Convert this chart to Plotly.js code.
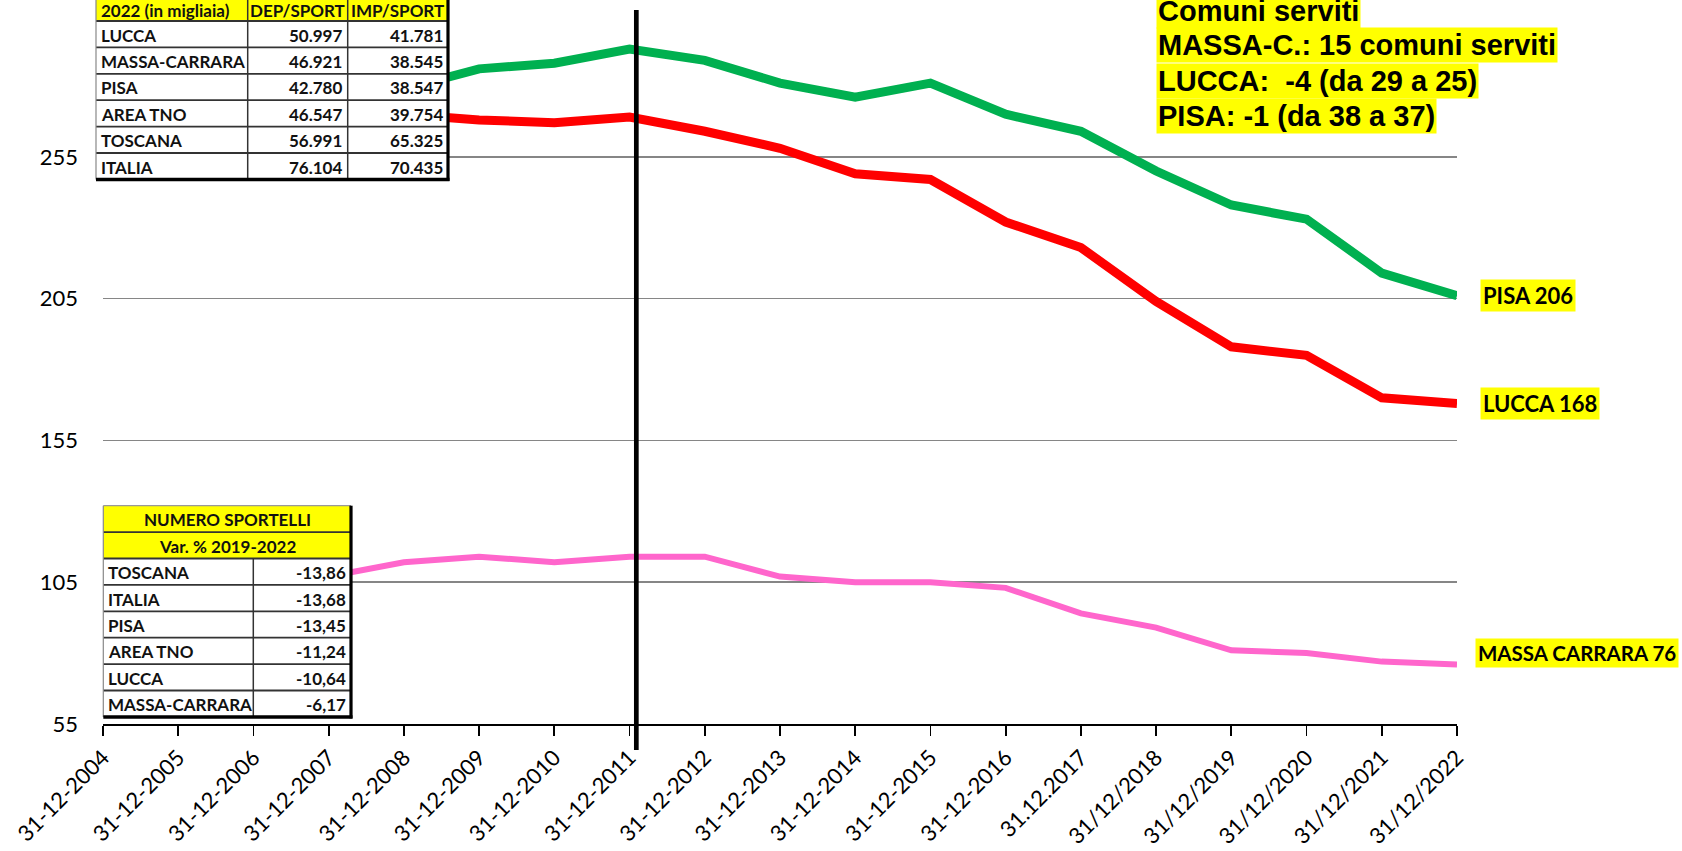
<!DOCTYPE html>
<html><head><meta charset="utf-8">
<script src="https://cdn.plot.ly/plotly-3.0.1.min.js"></script>
<style>html,body{margin:0;padding:0;background:#fff;} #chart{width:1682px;height:851px;}</style>
</head><body><div id="chart"></div>
<script>
// ---------- DATA ----------
const dates = ['31-12-2004','31-12-2005','31-12-2006','31-12-2007','31-12-2008','31-12-2009','31-12-2010','31-12-2011','31-12-2012','31-12-2013','31-12-2014','31-12-2015','31-12-2016','31.12.2017','31/12/2018','31/12/2019','31/12/2020','31/12/2021','31/12/2022'];
const pisa  = [262, 267, 272, 276, 279, 286, 288, 293, 289, 281, 276, 281, 270, 264, 250, 238, 233, 214, 206];
const lucca = [264, 267, 270, 271, 270, 268, 267, 269, 264, 258, 249, 247, 232, 223, 204, 188, 185, 170, 168];
const massa = [101, 103, 105, 107, 112, 114, 112, 114, 114, 107, 105, 105, 103, 94, 89, 81, 80, 77, 76];
const seriesNames = ['PISA', 'LUCCA', 'MASSA CARRARA'];
const yTicks = [55, 105, 155, 205, 255];
const markerDate = '31-12-2011';

const t1Header = ['2022 (in migliaia)', 'DEP/SPORT', 'IMP/SPORT'];
const t1Areas = ['LUCCA', 'MASSA-CARRARA', 'PISA', 'AREA TNO', 'TOSCANA', 'ITALIA'];
const t1Dep = ['50.997', '46.921', '42.780', '46.547', '56.991', '76.104'];
const t1Imp = ['41.781', '38.545', '38.547', '39.754', '65.325', '70.435'];

const t2Title = ['NUMERO SPORTELLI', 'Var. % 2019-2022'];
const t2Areas = ['TOSCANA', 'ITALIA', 'PISA', 'AREA TNO', 'LUCCA', 'MASSA-CARRARA'];
const t2Var = ['-13,86', '-13,68', '-13,45', '-11,24', '-10,64', '-6,17'];

const notes = ['Comuni serviti', 'MASSA-C.: 15 comuni serviti', 'LUCCA: \u00a0-4 (da 29 a 25)', 'PISA: -1 (da 38 a 37)'];

// ---------- GEOMETRY ----------
const W = 1682, H = 851;
const M = {l: 103, r: 225, t: 15, b: 127};
const PW = W - M.l - M.r, PH = H - M.t - M.b;
const px = x => (x - M.l) / PW;
const py = y => (H - M.b - y) / PH;

const shapes = [];
const ann = [];
const TF = {family: 'Lato, sans-serif', size: 17, color: '#111', weight: 'bold'};

function rect(x0, y0, x1, y1, fill) {
  shapes.push({type: 'rect', xref: 'paper', yref: 'paper', x0: px(x0), x1: px(x1), y0: py(y1), y1: py(y0),
    fillcolor: fill, line: {width: 0}, layer: 'above'});
}
function seg(x0, y0, x1, y1, w, c) {
  shapes.push({type: 'line', xref: 'paper', yref: 'paper', x0: px(x0), x1: px(x1), y0: py(y0), y1: py(y1),
    line: {width: w, color: c}, layer: 'above'});
}
function txt(x, y, t, anchor, font) {
  ann.push({xref: 'paper', yref: 'paper', x: px(x), y: py(y), text: t, showarrow: false,
    xanchor: anchor, yanchor: 'middle', font: font || TF});
}

// ---- top table ----
(function () {
  const cx = [96, 247.7, 347.7, 448];
  const rh = 26.4, hb = 21;
  const top = hb - rh;
  const rows = [top];
  for (let k = 0; k <= t1Areas.length; k++) rows.push(hb + rh * k);
  const bottom = rows[rows.length - 1];
  rect(cx[0], top, cx[3], bottom, '#ffffff');
  rect(cx[0], top, cx[3], hb, '#ffff00');
  for (let k = 1; k < rows.length - 1; k++) seg(cx[0], rows[k], cx[3], rows[k], 1.8, '#333');
  seg(cx[1], top, cx[1], bottom, 1.5, '#333');
  seg(cx[2], top, cx[2], bottom, 1.5, '#333');
  seg(cx[0], top, cx[0], bottom, 1.2, '#888');
  seg(cx[3], top, cx[3], bottom + 1.5, 3.2, '#000');
  seg(cx[0], bottom, cx[3] + 1.5, bottom, 3.5, '#000');
  const hc = 10.5;
  txt(cx[0] + 3, hc, t1Header[0], 'left');
  txt((cx[1] + cx[2]) / 2, hc, t1Header[1], 'center');
  txt((cx[2] + cx[3]) / 2, hc, t1Header[2], 'center');
  t1Areas.forEach((a, i) => {
    const yc = hb + rh * (i + 0.5) + 1;
    txt(cx[0] + 3, yc, a, 'left');
    txt(cx[2] - 4, yc, t1Dep[i], 'right');
    txt(cx[3] - 3, yc, t1Imp[i], 'right');
  });
})();

// ---- bottom table ----
(function () {
  const cx = [103.3, 253.3, 351];
  const rh = 26.4, top = 505.7;
  const rows = [];
  for (let k = 0; k <= t2Title.length + t2Areas.length; k++) rows.push(top + rh * k);
  const bottom = rows[rows.length - 1];
  rect(cx[0], top, cx[2], bottom, '#ffffff');
  rect(cx[0], top, cx[2], rows[2], '#ffff00');
  seg(cx[0], top, cx[2], top, 1.2, '#999');
  for (let k = 1; k < rows.length - 1; k++) seg(cx[0], rows[k], cx[2], rows[k], 1.8, '#333');
  seg(cx[1], rows[2], cx[1], bottom, 1.5, '#333');
  seg(cx[0], top, cx[0], bottom, 1.2, '#888');
  seg(cx[2], top, cx[2], bottom + 1.5, 3.2, '#000');
  seg(cx[0], bottom, cx[2] + 1.5, bottom, 3.5, '#000');
  t2Title.forEach((t, i) => txt((cx[0] + cx[2]) / 2, top + rh * (i + 0.5) + 1, t, 'center'));
  t2Areas.forEach((a, i) => {
    const yc = rows[2] + rh * (i + 0.5) + 1;
    txt(cx[0] + 3, yc, a, 'left');
    txt(cx[2] - 3, yc, t2Var[i], 'right');
  });
})();

// ---- vertical marker line ----
const mi = dates.indexOf(markerDate);
shapes.push({type: 'line', xref: 'paper', yref: 'paper',
  x0: (mi + 0.09) / (dates.length - 1), x1: (mi + 0.09) / (dates.length - 1),
  y0: py(750), y1: py(10), line: {width: 4.7, color: '#000'}, layer: 'above'});

// ---- end labels ----
const LF = {family: 'Lato, sans-serif', size: 22, color: '#000', weight: 'bold'};
const last = a => a[a.length - 1];
[[seriesNames[0], pisa, 1480, 0, 22], [seriesNames[1], lucca, 1480, 0, 22], [seriesNames[2], massa, 1475, 11, 20.5]].forEach(([n, arr, x, ys, fs]) => {
  ann.push({xref: 'paper', yref: 'y', x: px(x), y: last(arr), yshift: ys, text: n + ' ' + last(arr),
    showarrow: false, xanchor: 'left', yanchor: 'middle', bgcolor: '#ffff00', borderpad: 2,
    font: Object.assign({}, LF, {size: fs})});
});

// ---- notes top right ----
const NF = {family: 'Liberation Sans, Arial, sans-serif', size: 29, color: '#000', weight: 'bold'};
const noteY = [11.5, 45, 80.8, 116.4];
notes.forEach((t, i) => {
  ann.push({xref: 'paper', yref: 'paper', x: px(1156), y: py(noteY[i]), text: t, showarrow: false,
    xanchor: 'left', yanchor: 'middle', bgcolor: '#ffff00', borderpad: 1, font: NF});
});

// ---------- TRACES ----------
const traces = [
  {x: dates, y: pisa, name: seriesNames[0], type: 'scatter', mode: 'lines', line: {color: '#00B050', width: 9}},
  {x: dates, y: lucca, name: seriesNames[1], type: 'scatter', mode: 'lines', line: {color: '#FF0000', width: 9}},
  {x: dates, y: massa, name: seriesNames[2], type: 'scatter', mode: 'lines', line: {color: '#FF66CC', width: 6}}
];

const layout = {
  width: W, height: H, margin: M,
  paper_bgcolor: '#fff', plot_bgcolor: '#fff',
  showlegend: false,
  font: {family: 'Lato, sans-serif', color: '#000'},
  xaxis: {type: 'category', range: [0, dates.length - 1], showline: true, linecolor: '#000', linewidth: 2,
    ticks: 'outside', ticklen: 10, tickwidth: 1.8, tickcolor: '#000', tickangle: -45,
    tickfont: {family: 'Lato, sans-serif', size: 22, color: '#000'}, showgrid: false, zeroline: false, fixedrange: true},
  yaxis: {range: [55, 305], tickmode: 'array', tickvals: yTicks, showgrid: true, gridcolor: '#868686', gridwidth: 1.5,
    showline: false, zeroline: false, ticks: '', ticklabelstandoff: 24,
    tickfont: {family: 'Lato, sans-serif', size: 22, color: '#000'}, fixedrange: true},
  shapes: shapes,
  annotations: ann
};

Plotly.newPlot('chart', traces, layout, {displayModeBar: false, staticPlot: true});
</script>
</body></html>
